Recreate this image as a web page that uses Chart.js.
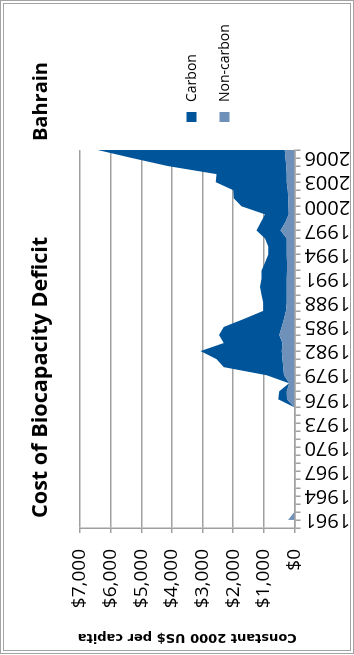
<!DOCTYPE html>
<html>
<head>
<meta charset="utf-8">
<script src="https://cdn.jsdelivr.net/npm/chart.js@4.4.1/dist/chart.umd.min.js"></script>
<style>
  html, body { margin: 0; padding: 0; background: #fff; width: 354px; height: 655px; overflow: hidden; }
  #frame { position: absolute; left: 0; top: 0; width: 354px; height: 654px; box-sizing: border-box; border: 4px double #a3a3a3; pointer-events: none; }
  /* the chart is laid out landscape and turned a quarter turn anticlockwise */
  #turn { position: absolute; left: 0; top: 0; width: 655px; height: 354px; transform-origin: 0 0; transform: translate(0, 655px) rotate(-90deg); }
</style>
</head>
<body>
<div id="turn"><canvas id="c" width="655" height="354"></canvas></div>
<div id="frame"></div>
<script>
const chartTitle = 'Cost of Biocapacity Deficit';
const countryName = 'Bahrain';
const axisTitle = 'Constant 2000 US$ per capita';

const axisStartYear = 1960;
const years = [
  '1961','1962','1963','1964','1965','1966','1967','1968','1969','1970',
  '1971','1972','1973','1974','1975','1976','1977','1978','1979','1980',
  '1981','1982','1983','1984','1985','1986','1987','1988','1989','1990',
  '1991','1992','1993','1994','1995','1996','1997','1998','1999','2000',
  '2001','2002','2003','2004','2005','2006','2007'
];

// constant 2000 US$ per capita
const nonCarbon = [
  210, 0, 0, 0, 0, 0, 0, 0, 0, 0,
  0, 0, 0, 0, 0, 245, 256, 170, 343, 370,
  390, 420, 390, 497, 420, 343, 280, 256, 256, 250,
  250, 245, 245, 250, 256, 256, 460, 300, 190, 195,
  202, 220, 250, 256, 270, 290, 320
];
const carbon = [
  0, 0, 0, 0, 0, 0, 0, 0, 0, 0,
  0, 0, 0, 0, 0, 285, 241, 10, 567, 1936,
  2155, 2650, 1916, 1963, 1886, 1307, 740, 764, 818, 878,
  824, 829, 720, 607, 601, 709, 777, 800, 775, 1533,
  1781, 1782, 2320, 2289, 3860, 5010, 6100
];

const valueTicks = [0, 1000, 2000, 3000, 4000, 5000, 6000, 7000];

const carbonColor = '#00559a';
const nonCarbonColor = '#6f90b8';
const gridColor = '#a0a0a0';

// titles and the side legend, drawn onto the same canvas
const headings = {
  id: 'headings',
  afterDraw(chart) {
    const { ctx, chartArea } = chart;
    ctx.save();
    ctx.fillStyle = '#000';
    ctx.textBaseline = 'alphabetic';
    ctx.font = 'bold 21.6px "Open Sans"';
    ctx.textAlign = 'left';
    ctx.fillText(chartTitle, chartArea.left + 10, 47);
    ctx.font = 'bold 20px "Open Sans"';
    ctx.textAlign = 'right';
    ctx.fillText(countryName, chartArea.right + 88, 47);

    const items = chart.data.datasets.slice().reverse();
    ctx.font = '14px "Open Sans"';
    ctx.textAlign = 'left';
    ctx.textBaseline = 'middle';
    items.forEach((ds, i) => {
      const cy = 191.5 + i * 33;
      ctx.fillStyle = ds.backgroundColor;
      ctx.fillRect(chartArea.right + 28, cy - 5, 10, 10);
      ctx.fillStyle = '#000';
      ctx.fillText(ds.label, chartArea.right + 48, cy + 1);
    });
    ctx.restore();
  }
};

function draw() {
  new Chart(document.getElementById('c'), {
    type: 'line',
    data: {
      labels: years,
      datasets: [
        { label: 'Non-carbon', data: nonCarbon, backgroundColor: nonCarbonColor, borderWidth: 0, fill: 'origin', pointRadius: 0 },
        { label: 'Carbon', data: carbon, backgroundColor: carbonColor, borderWidth: 0, fill: '-1', pointRadius: 0 }
      ]
    },
    options: {
      responsive: false,
      animation: false,
      devicePixelRatio: 1,
      layout: { padding: { left: 0, top: 80, right: 150, bottom: 0 } },
      elements: { line: { tension: 0 } },
      plugins: { legend: { display: false }, title: { display: false }, tooltip: { enabled: false } },
      scales: {
        x: {
          type: 'linear',
          min: axisStartYear,
          max: Number(years[years.length - 1]),
          afterBuildTicks: s => { s.ticks = [axisStartYear].concat(years.map(Number)).map(v => ({ value: v })); },
          grid: { drawOnChartArea: false, drawTicks: true, tickLength: 6, color: gridColor, lineWidth: 1.5 },
          border: { display: true, color: gridColor, width: 1.5 },
          ticks: {
            autoSkip: false, minRotation: 90, maxRotation: 90, padding: 4,
            color: '#000', font: { family: 'Open Sans', size: 20 },
            callback: v => (v > axisStartYear && (v - Number(years[0])) % 3 === 0 ? String(v) : '')
          },
          afterFit: s => { s.height = 59.5; }
        },
        y: {
          stacked: true,
          min: valueTicks[0],
          max: valueTicks[valueTicks.length - 1],
          afterBuildTicks: s => { s.ticks = valueTicks.map(v => ({ value: v })); },
          grid: { color: gridColor, lineWidth: 1.5, tickLength: 5, drawTicks: true },
          border: { display: true, color: gridColor, width: 1.5 },
          ticks: {
            padding: 16, color: '#000', font: { family: 'Open Sans', size: 19 },
            callback: v => '$' + Number(v).toLocaleString('en-US')
          },
          title: {
            display: true, text: axisTitle, color: '#000',
            font: { family: 'DejaVu Sans', weight: 'bold', size: 13 },
            padding: { top: 10, bottom: 0 }
          },
          afterFit: s => { s.width = 127; }
        }
      }
    },
    plugins: [headings]
  });
}

Promise.all([
  document.fonts.load('16px "Open Sans"'),
  document.fonts.load('bold 21px "Open Sans"'),
  document.fonts.load('bold 13px "DejaVu Sans"')
]).then(draw, draw);
</script>
</body>
</html>
